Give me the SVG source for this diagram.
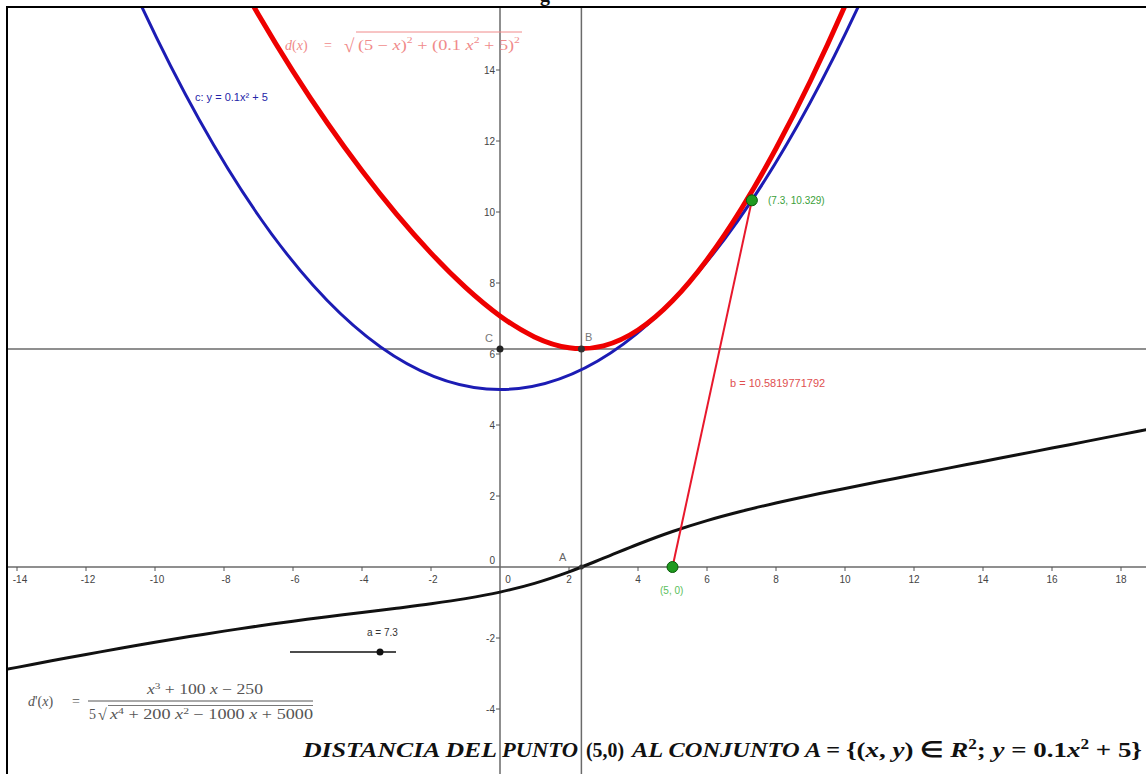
<svg xmlns="http://www.w3.org/2000/svg" width="1146" height="774" viewBox="0 0 1146 774">
<defs>
<style>
.lbl{font-family:"Liberation Sans",Arial,sans-serif;font-size:10px;fill:#444}
.ylbl{font-family:"Liberation Sans",Arial,sans-serif;font-size:10px;fill:#444;text-anchor:end}
.xlbl{font-family:"Liberation Sans",Arial,sans-serif;font-size:10px;fill:#444;text-anchor:middle}
.math{font-family:"Liberation Serif","Times New Roman",serif;font-size:14px}
.it{font-style:italic}
.title{font-family:"Liberation Serif","Times New Roman",serif;font-size:22px;font-weight:bold;fill:#111}
.axis{stroke:#6a6a6a;stroke-width:1.5;fill:none}
.tick{stroke:#555;stroke-width:1}
.curve{fill:none;vector-effect:non-scaling-stroke;stroke-linejoin:round}
</style>
<clipPath id="plot"><rect x="8" y="8" width="1138" height="766"/></clipPath>
</defs>
<rect x="0" y="0" width="1146" height="774" fill="#fff"/>
<text x="540" y="1" style="font-family:'Liberation Serif',serif;font-size:20px;font-weight:bold;fill:#111">g</text>

<g id="plot-area" clip-path="url(#plot)">
  <g id="axes">
    <line class="axis" x1="8" y1="567" x2="1146" y2="567"/>
    <line class="axis" x1="500" y1="8" x2="500" y2="774"/>
    <line class="axis" x1="8" y1="349" x2="1146" y2="349"/>
    <line class="axis" x1="581.4" y1="8" x2="581.4" y2="774" stroke="#555"/>
    <path class="tick" d="M17 567v4M86 567v4M155 567v4M224 567v4M293 567v4M362 567v4M431 567v4M569 567v4M638 567v4M707 567v4M776 567v4M845 567v4M914 567v4M983 567v4M1052 567v4M1121 567v4"/>
    <path class="tick" d="M496 70h4M496 141h4M496 212h4M496 283h4M496 354h4M496 425h4M496 496h4M496 638h4M496 709h4"/>
  </g>
  <g id="axis-labels">
    <text class="xlbl" x="20" y="583">-14</text>
    <text class="xlbl" x="88" y="583">-12</text>
    <text class="xlbl" x="157" y="583">-10</text>
    <text class="xlbl" x="226" y="583">-8</text>
    <text class="xlbl" x="295" y="583">-6</text>
    <text class="xlbl" x="364" y="583">-4</text>
    <text class="xlbl" x="433" y="583">-2</text>
    <text class="xlbl" x="508" y="583">0</text>
    <text class="xlbl" x="569" y="583">2</text>
    <text class="xlbl" x="638" y="583">4</text>
    <text class="xlbl" x="707" y="583">6</text>
    <text class="xlbl" x="776" y="583">8</text>
    <text class="xlbl" x="845" y="583">10</text>
    <text class="xlbl" x="914" y="583">12</text>
    <text class="xlbl" x="983" y="583">14</text>
    <text class="xlbl" x="1052" y="583">16</text>
    <text class="xlbl" x="1121" y="583">18</text>
    <text class="ylbl" x="495" y="74">14</text>
    <text class="ylbl" x="495" y="145">12</text>
    <text class="ylbl" x="495" y="216">10</text>
    <text class="ylbl" x="495" y="287">8</text>
    <text class="ylbl" x="495" y="358">6</text>
    <text class="ylbl" x="495" y="429">4</text>
    <text class="ylbl" x="495" y="500">2</text>
    <text class="ylbl" x="495" y="564">0</text>
    <text class="ylbl" x="495" y="642">-2</text>
    <text class="ylbl" x="495" y="713">-4</text>
  </g>

  <g id="curves" transform="matrix(34.5 0 0 -35.5 500 567)">
    <path id="curve-c" class="curve" stroke="#1c1cb4" stroke-width="3" d="M-11 17.1 Q0 -7.1 11 17.1"/>
    <path id="curve-d" class="curve" stroke="#ee0000" stroke-width="5" d="M-8 17.291 C-7.667 16.689 -7.333 16.111 -7 15.557 C-6.667 15.003 -6.333 14.472 -6 13.963 C-5.667 13.454 -5.333 12.967 -5 12.5 C-4.667 12.033 -4.333 11.588 -4 11.161 C-3.667 10.735 -3.333 10.327 -3 9.94 C-2.667 9.553 -2.333 9.186 -2 8.841 C-1.667 8.496 -1.333 8.172 -1 7.875 C-0.667 7.578 -0.333 7.307 0 7.071 C0.333 6.835 0.667 6.635 1 6.482 C1.333 6.329 1.667 6.222 2 6.177 C2.333 6.132 2.667 6.148 3 6.23 C3.333 6.312 3.667 6.461 4 6.675 C4.333 6.889 4.667 7.167 5 7.5 C5.333 7.833 5.667 8.222 6 8.658 C6.333 9.094 6.667 9.577 7 10.1 C7.333 10.623 7.667 11.187 8 11.788 C8.333 12.389 8.667 13.026 9 13.697 C9.333 14.368 9.667 15.073 10 15.811 C10.333 16.549 10.667 17.32 11 18.122"/>
    <path id="curve-dprime" class="curve" stroke="#111" stroke-width="3" d="M-15 -3.0144 C-14.667 -2.9519 -14.333 -2.8891 -14 -2.8273 C-13.667 -2.7655 -13.333 -2.7041 -13 -2.6436 C-12.667 -2.5831 -12.333 -2.5231 -12 -2.4641 C-11.667 -2.4051 -11.333 -2.3468 -11 -2.2897 C-10.667 -2.2326 -10.333 -2.1763 -10 -2.1213 C-9.667 -2.0663 -9.333 -2.0124 -9 -1.96 C-8.667 -1.9076 -8.333 -1.8563 -8 -1.8067 C-7.667 -1.7571 -7.333 -1.7089 -7 -1.6623 C-6.667 -1.6157 -6.333 -1.5706 -6 -1.5269 C-5.667 -1.4832 -5.333 -1.4412 -5 -1.4 C-4.667 -1.3588 -4.333 -1.3193 -4 -1.2795 C-3.667 -1.2397 -3.333 -1.2016 -3 -1.161 C-2.667 -1.1204 -2.333 -1.081 -2 -1.0361 C-1.667 -0.9912 -1.333 -0.9462 -1 -0.8914 C-0.667 -0.8366 -0.333 -0.7791 0 -0.7071 C0.333 -0.6351 0.667 -0.5549 1 -0.4597 C1.333 -0.3645 1.667 -0.2538 2 -0.136 C2.333 -0.0182 2.667 0.1177 3 0.2472 C3.333 0.3767 3.667 0.5157 4 0.6412 C4.333 0.7667 4.667 0.8889 5 1 C5.333 1.1111 5.667 1.2124 6 1.3075 C6.333 1.4026 6.667 1.4879 7 1.5703 C7.333 1.6527 7.667 1.7279 8 1.8018 C8.333 1.8757 8.667 1.9449 9 2.0136 C9.333 2.0823 9.667 2.1481 10 2.2137 C10.333 2.2793 10.667 2.3431 11 2.407 C11.333 2.4709 11.667 2.5339 12 2.597 C12.333 2.6601 12.667 2.7226 13 2.7853 C13.333 2.848 13.667 2.9105 14 2.9731 C14.333 3.0357 14.667 3.0983 15 3.1611 C15.333 3.2239 15.667 3.2866 16 3.3496 C16.333 3.4126 16.667 3.4756 17 3.5388 C17.333 3.602 17.667 3.6653 18 3.7288 C18.333 3.7923 18.667 3.856 19 3.9195"/>
  </g>

  <g id="connectors">
    <line id="segment-b" x1="672.5" y1="567" x2="751.9" y2="200.3" stroke="#e8182c" stroke-width="2"/>
    <line id="slider-a" x1="290" y1="652" x2="396" y2="652" stroke="#111" stroke-width="1.5"/>
  </g>

  <g id="point-C"><circle cx="500" cy="349" r="3.5" fill="#222"/><text class="lbl" x="485" y="342" style="font-size:11px;fill:#777">C</text></g>
  <g id="point-B"><circle cx="581.4" cy="349" r="3.5" fill="#333"/><text class="lbl" x="585" y="341" style="font-size:11px;fill:#777">B</text></g>
  <g id="point-A"><circle cx="581.4" cy="567" r="2.5" fill="#333"/><text class="lbl" x="559" y="561" style="font-size:11px;fill:#666">A</text></g>
  <g id="point-P"><circle cx="751.9" cy="200.3" r="5.5" fill="#1f9a1f" stroke="#0a5a0a" stroke-width="1"/><text class="lbl" x="768" y="204" style="fill:#3aa03a">(7.3, 10.329)</text></g>
  <g id="point-Q"><circle cx="672.5" cy="567" r="5.5" fill="#1f9a1f" stroke="#0a5a0a" stroke-width="1"/><text class="lbl" x="660" y="594" style="fill:#5ac05a">(5, 0)</text></g>
  <g id="slider-point"><circle cx="380" cy="652" r="3.5" fill="#111"/><text class="lbl" x="367" y="636" style="fill:#333">a = 7.3</text></g>

  <g id="label-c"><text class="lbl" x="195" y="101" style="font-size:11px;fill:#2525a8">c: y = 0.1x² + 5</text></g>
  <g id="label-b"><text class="lbl" x="730" y="387" style="font-size:11px;fill:#e05050">b = 10.5819771792</text></g>

  <g id="formula-d" fill="#f08a8a">
    <text class="math" x="285" y="50"><tspan class="it">d</tspan>(<tspan class="it">x</tspan>)</text>
    <text class="math" x="324" y="50">=</text>
    <text class="math" x="344" y="52" style="font-size:19px">√</text>
    <line x1="356" y1="32" x2="522" y2="32" stroke="#f08a8a" stroke-width="1"/>
    <text class="math" x="358" y="50" textLength="162" lengthAdjust="spacingAndGlyphs">(5 − <tspan class="it">x</tspan>)<tspan dy="-7" font-size="9">2</tspan><tspan dy="7"> + (0.1 </tspan><tspan class="it">x</tspan><tspan dy="-7" font-size="9">2</tspan><tspan dy="7"> + 5)</tspan><tspan dy="-7" font-size="9">2</tspan></text>
  </g>

  <g id="formula-dprime" fill="#555">
    <text class="math" x="28" y="706"><tspan class="it">d</tspan>'(<tspan class="it">x</tspan>)</text>
    <text class="math" x="72" y="706">=</text>
    <text class="math" x="147" y="694" textLength="116" lengthAdjust="spacingAndGlyphs"><tspan class="it">x</tspan><tspan dy="-5" font-size="9">3</tspan><tspan dy="5"> + 100 </tspan><tspan class="it">x</tspan> − 250</text>
    <line x1="88" y1="701" x2="313" y2="701" stroke="#555" stroke-width="1"/>
    <text class="math" x="89" y="719">5</text>
    <text class="math" x="98" y="720" style="font-size:16px">√</text>
    <line x1="108" y1="705.5" x2="313" y2="705.5" stroke="#555" stroke-width="0.8"/>
    <text class="math" x="110" y="719" textLength="203" lengthAdjust="spacingAndGlyphs"><tspan class="it">x</tspan><tspan dy="-5" font-size="9">4</tspan><tspan dy="5"> + 200 </tspan><tspan class="it">x</tspan><tspan dy="-5" font-size="9">2</tspan><tspan dy="5"> − 1000 </tspan><tspan class="it">x</tspan> + 5000</text>
  </g>

  <g id="title">
    <text class="title" y="757"><tspan x="303" font-style="italic" textLength="194" lengthAdjust="spacingAndGlyphs">DISTANCIA DEL</tspan><tspan x="502" font-style="italic" textLength="76" lengthAdjust="spacingAndGlyphs">PUNTO</tspan><tspan x="586" textLength="38" lengthAdjust="spacingAndGlyphs">(5,0)</tspan><tspan x="632" font-style="italic" textLength="208" lengthAdjust="spacingAndGlyphs">AL CONJUNTO A =</tspan></text>
    <text class="title" x="846" y="757" textLength="296" lengthAdjust="spacingAndGlyphs">{(<tspan font-style="italic">x</tspan>, <tspan font-style="italic">y</tspan>) ∈ <tspan font-style="italic">R</tspan><tspan dy="-8" font-size="14">2</tspan><tspan dy="8">; </tspan><tspan font-style="italic">y</tspan> = 0.1<tspan font-style="italic">x</tspan><tspan dy="-8" font-size="14">2</tspan><tspan dy="8"> + 5}</tspan></text>
  </g>
</g>

<g id="frame">
  <line x1="7" y1="7" x2="1146" y2="7" stroke="#000" stroke-width="2"/>
  <line x1="7" y1="6" x2="7" y2="774" stroke="#000" stroke-width="2"/>
</g>
</svg>
